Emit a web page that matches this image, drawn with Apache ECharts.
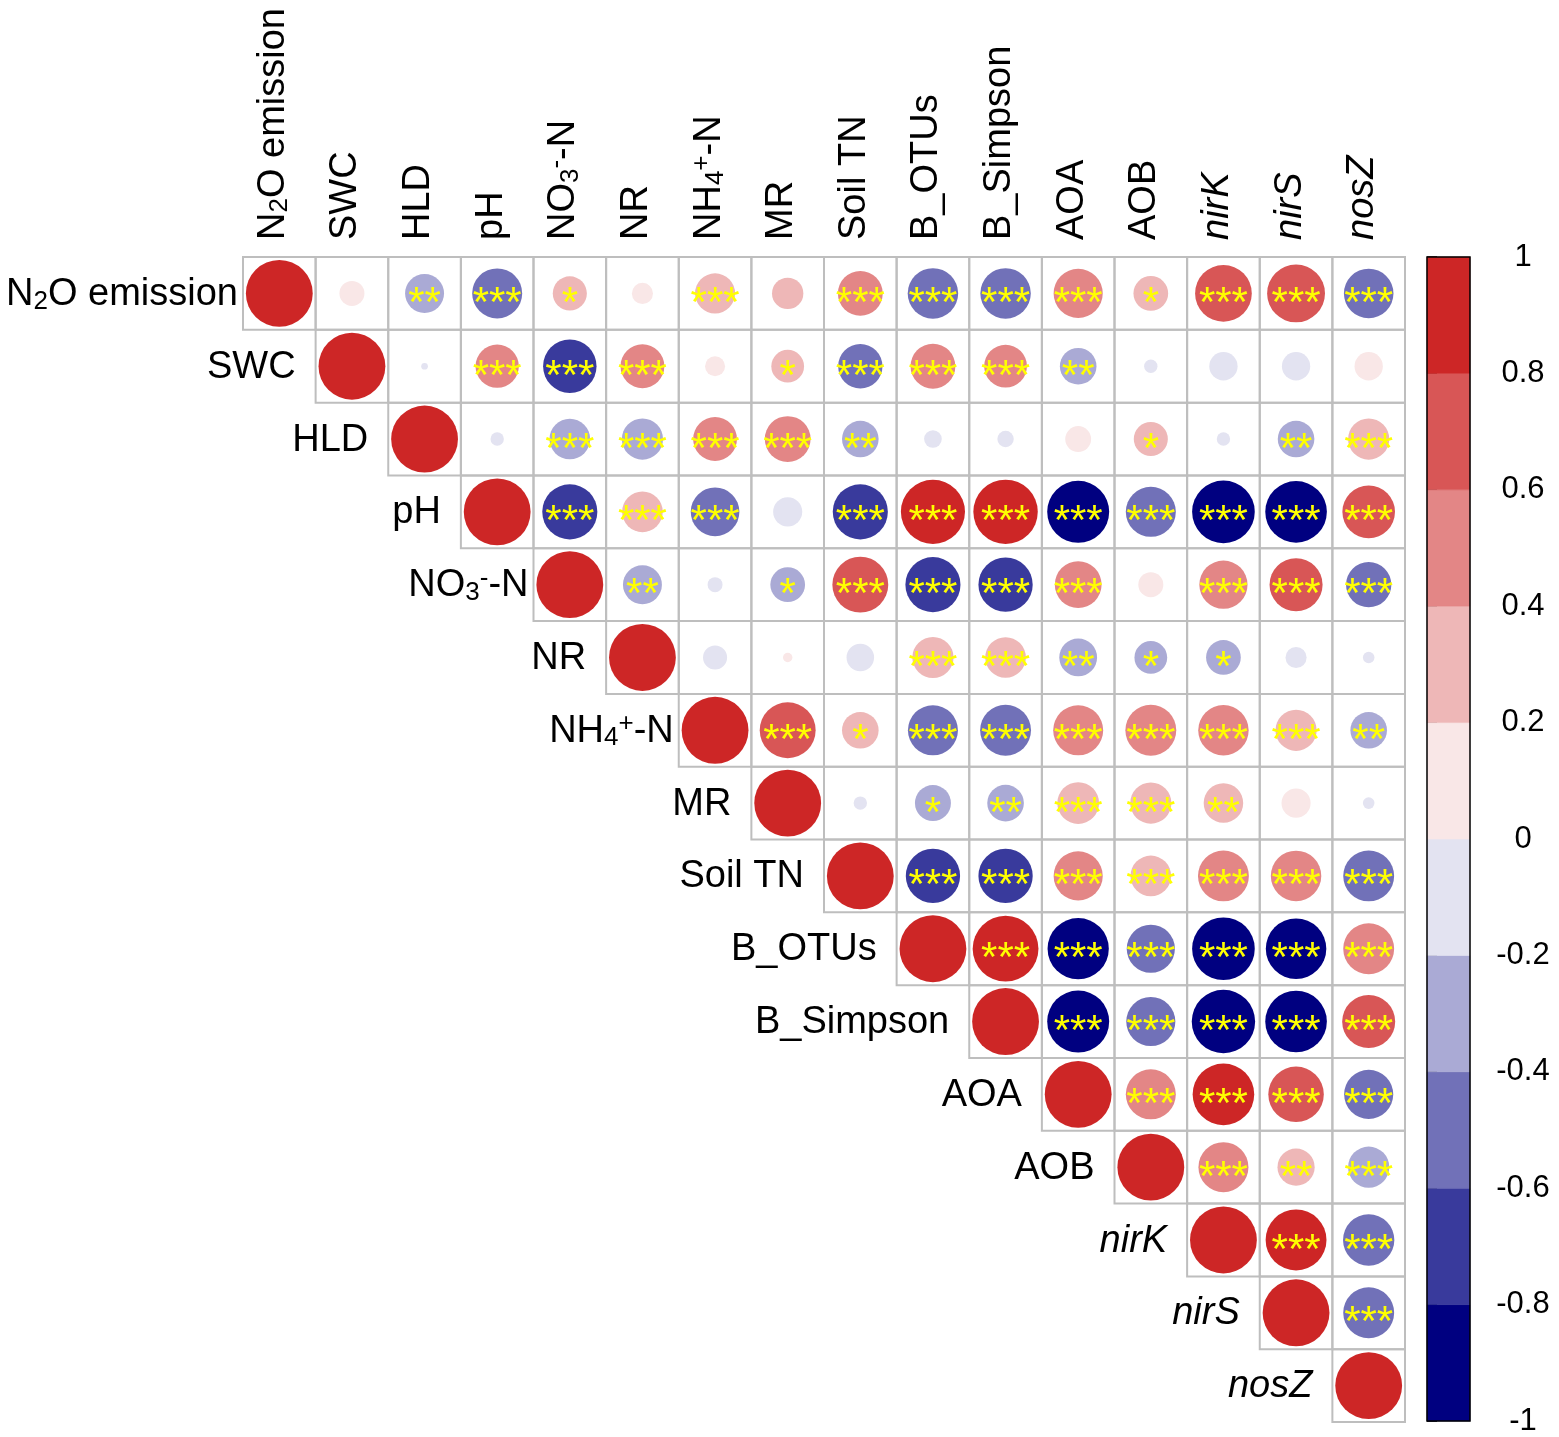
<!DOCTYPE html>
<html><head><meta charset="utf-8">
<script src="https://cdn.jsdelivr.net/npm/echarts@6/dist/echarts.min.js"></script>
<style>html,body{margin:0;padding:0;background:#fff}#c{width:1559px;height:1437px}</style>
</head><body><div id="c"></div>
<script>
// Variables (rich-text markup for sub/superscripts and italics)
const varLabels = ['N{sub|2}O emission','SWC','HLD','pH','NO{sub|3}{sup|-}-N','NR','NH{sub|4}{sup|+}-N','MR','Soil TN','B_OTUs','B_Simpson','AOA','AOB','{it|nirK}','{it|nirS}','{it|nosZ}'];

// Upper-triangle correlations, each row starts at the column right of the diagonal
const r_N2O   = [0.14,-0.34,-0.56,0.26,0.10,0.36,0.22,0.45,-0.57,-0.57,0.54,0.27,0.72,0.75,-0.55];
const r_SWC   = [-0.01,0.42,-0.64,0.43,0.09,0.24,-0.44,0.45,0.41,-0.30,-0.04,-0.18,-0.18,0.18];
const r_HLD   = [-0.04,-0.37,-0.38,0.43,0.47,-0.30,-0.07,-0.06,0.15,0.26,-0.04,-0.30,0.38];
const r_pH    = [-0.68,0.37,-0.53,-0.19,-0.68,0.92,0.93,-0.86,-0.56,-0.88,-0.85,0.62];
const r_NO3   = [-0.34,-0.05,-0.27,0.70,-0.68,-0.66,0.49,0.14,0.52,0.63,-0.46];
const r_NR    = [-0.13,0.02,-0.17,0.38,0.37,-0.32,-0.24,-0.27,-0.10,-0.03];
const r_NH4   = [0.70,0.30,-0.56,-0.58,0.56,0.58,0.57,0.38,-0.30];
const r_MR    = [-0.04,-0.29,-0.30,0.39,0.38,0.35,0.19,-0.03];
const r_STN   = [-0.66,-0.66,0.54,0.37,0.58,0.57,-0.58];
const r_OTU   = [0.97,-0.84,-0.52,-0.88,-0.82,0.58];
const r_Simp  = [-0.86,-0.54,-0.90,-0.85,0.63];
const r_AOA   = [0.56,0.85,0.69,-0.54];
const r_AOB   = [0.56,0.31,-0.38];
const r_nirK  = [0.83,-0.59];
const r_nirS  = [-0.58];
const corrRows = [r_N2O,r_SWC,r_HLD,r_pH,r_NO3,r_NR,r_NH4,r_MR,r_STN,r_OTU,r_Simp,r_AOA,r_AOB,r_nirK,r_nirS,[]];

// Significance marks, same layout
const s_N2O  = ['','**','***','*','','***','','***','***','***','***','*','***','***','***'];
const s_SWC  = ['','***','***','***','','*','***','***','***','**','','','',''];
const s_HLD  = ['','***','***','***','***','**','','','','*','','**','***'];
const s_pH   = ['***','***','***','','***','***','***','***','***','***','***','***'];
const s_NO3  = ['**','','*','***','***','***','***','','***','***','***'];
const s_NR   = ['','','','***','***','**','*','*','',''];
const s_NH4  = ['***','*','***','***','***','***','***','***','**'];
const s_MR   = ['','*','**','***','***','**','',''];
const s_STN  = ['***','***','***','***','***','***','***'];
const s_OTU  = ['***','***','***','***','***','***'];
const s_Simp = ['***','***','***','***','***'];
const s_AOA  = ['***','***','***','***'];
const s_AOB  = ['***','**','***'];
const s_nirK = ['***','***'];
const s_nirS = ['***'];
const sigRows = [s_N2O,s_SWC,s_HLD,s_pH,s_NO3,s_NR,s_NH4,s_MR,s_STN,s_OTU,s_Simp,s_AOA,s_AOB,s_nirK,s_nirS,[]];

// Colour scale: 10 bins from -1 to 1
const binColors = ['#000080','#393A9C','#7171B8','#AAAAD5','#E3E3F1','#F9E7E7','#EEB7B7','#E38686','#D85656','#CD2626'];
const binBreaks = [-1,-0.8,-0.6,-0.4,-0.2,0,0.2,0.4,0.6,0.8,1];

const FONT = '"Liberation Sans", Arial, Helvetica, sans-serif';
const n = varLabels.length;

const cells = [];
for (let i = 0; i < n; i++) {
  cells.push({i, j: i, r: 1, s: ''});
  corrRows[i].forEach((v, k) => cells.push({i, j: i + 1 + k, r: v, s: sigRows[i][k]}));
}
function colorOf(r){
  let idx = Math.floor((r + 1) / 0.2 + 1e-9);
  return binColors[Math.max(0, Math.min(9, idx))];
}
const rich = {
  sub: {fontSize: 26, fontFamily: FONT, verticalAlign: 'bottom', lineHeight: 15, fill: '#000'},
  sup: {fontSize: 26, fontFamily: FONT, verticalAlign: 'top', lineHeight: 16, fill: '#000'},
  it:  {fontSize: 38, fontFamily: FONT, fontStyle: 'italic', lineHeight: 40, fill: '#000'}
};
const labelStyle = (text, align) => ({text, fontSize: 38, fontFamily: FONT, fill: '#000', lineHeight: 40, align, verticalAlign: 'middle', rich});

const chart = echarts.init(document.getElementById('c'), null, {renderer: 'canvas'});
chart.setOption({
  backgroundColor: '#fff',
  animation: false,
  grid: [
    {left: 243, top: 257, width: 1162, height: 1165},
    {left: 1427, top: 257, width: 43, height: 1164}
  ],
  xAxis: [
    {type: 'category', gridIndex: 0, data: varLabels, show: false},
    {type: 'value', gridIndex: 1, min: 0, max: 1, show: false}
  ],
  yAxis: [
    {type: 'category', gridIndex: 0, data: varLabels, inverse: true, show: false},
    {type: 'value', gridIndex: 1, min: -1, max: 1, interval: 0.2, position: 'right',
     axisLine: {show: false}, splitLine: {show: false},
     axisTick: {show: true, length: 10, lineStyle: {color: '#000', width: 1.5}},
     axisLabel: {show: true, color: '#000', fontSize: 31, fontFamily: FONT, align: 'center', margin: 53,
       formatter: v => String(Math.round(v * 10) / 10)}}
  ],
  series: [
    { // cell borders
      type: 'custom', xAxisIndex: 0, yAxisIndex: 0, z: 1,
      data: cells.map(c => [c.j, c.i]),
      renderItem: (p, api) => {
        const c = api.coord([api.value(0), api.value(1)]);
        const s = api.size([1, 1]);
        return {type: 'rect', shape: {x: c[0] - s[0] / 2, y: c[1] - s[1] / 2, width: s[0], height: s[1]},
          style: {fill: null, stroke: '#BEBEBE', lineWidth: 2}};
      }
    },
    { // circles + significance
      type: 'custom', xAxisIndex: 0, yAxisIndex: 0, z: 3,
      data: cells.map(c => [c.j, c.i, c.r]),
      renderItem: (p, api) => {
        const cell = cells[p.dataIndex];
        const c = api.coord([api.value(0), api.value(1)]);
        const s = api.size([1, 1]);
        const r = api.value(2);
        const rad = 0.46 * Math.sqrt(Math.abs(r)) * Math.min(s[0], s[1]);
        const children = [{type: 'circle', shape: {cx: c[0], cy: c[1], r: rad}, style: {fill: colorOf(r)}}];
        if (cell.s) children.push({type: 'text', x: c[0], y: c[1] + 11,
          style: {text: cell.s, fill: '#FFFF00', fontSize: 42, fontFamily: FONT, align: 'center', verticalAlign: 'middle'}});
        return {type: 'group', children};
      }
    },
    { // row labels (left of diagonal) and column labels (top)
      type: 'custom', xAxisIndex: 0, yAxisIndex: 0, z: 4,
      data: varLabels.map((_, k) => [k, k]),
      renderItem: (p, api) => {
        const k = p.dataIndex;
        const c = api.coord([k, k]);
        const top = api.coord([k, 0]);
        const s = api.size([1, 1]);
        const lab = varLabels[k];
        const isExpr = /\{(sub|sup)\|/.test(lab);
        const gap = isExpr ? 5 : 20;
        return {type: 'group', children: [
          {type: 'text', x: c[0] - s[0] / 2 - gap, y: c[1] + 1, style: labelStyle(lab, 'right')},
          {type: 'text', x: top[0] - 6, y: top[1] - s[1] / 2 - 17, rotation: Math.PI / 2, style: labelStyle(lab, 'left')}
        ]};
      }
    },
    { // colour bar bins
      type: 'custom', xAxisIndex: 1, yAxisIndex: 1, z: 2,
      data: binColors.map((col, b) => [binBreaks[b], binBreaks[b + 1]]),
      renderItem: (p, api) => {
        const a = api.coord([0, api.value(1)]);
        const b = api.coord([1, api.value(0)]);
        return {type: 'rect', shape: {x: a[0], y: a[1], width: b[0] - a[0], height: b[1] - a[1]},
          style: {fill: binColors[p.dataIndex], stroke: binColors[p.dataIndex], lineWidth: 0.5}};
      }
    },
    { // colour bar frame
      type: 'custom', xAxisIndex: 1, yAxisIndex: 1, z: 3,
      data: [[binBreaks[0], binBreaks[binBreaks.length - 1]]],
      renderItem: (p, api) => {
        const a = api.coord([0, api.value(1)]);
        const b = api.coord([1, api.value(0)]);
        return {type: 'rect', shape: {x: a[0], y: a[1], width: b[0] - a[0], height: b[1] - a[1]},
          style: {fill: null, stroke: '#000', lineWidth: 1.5}};
      }
    }
  ]
});
</script></body></html>
